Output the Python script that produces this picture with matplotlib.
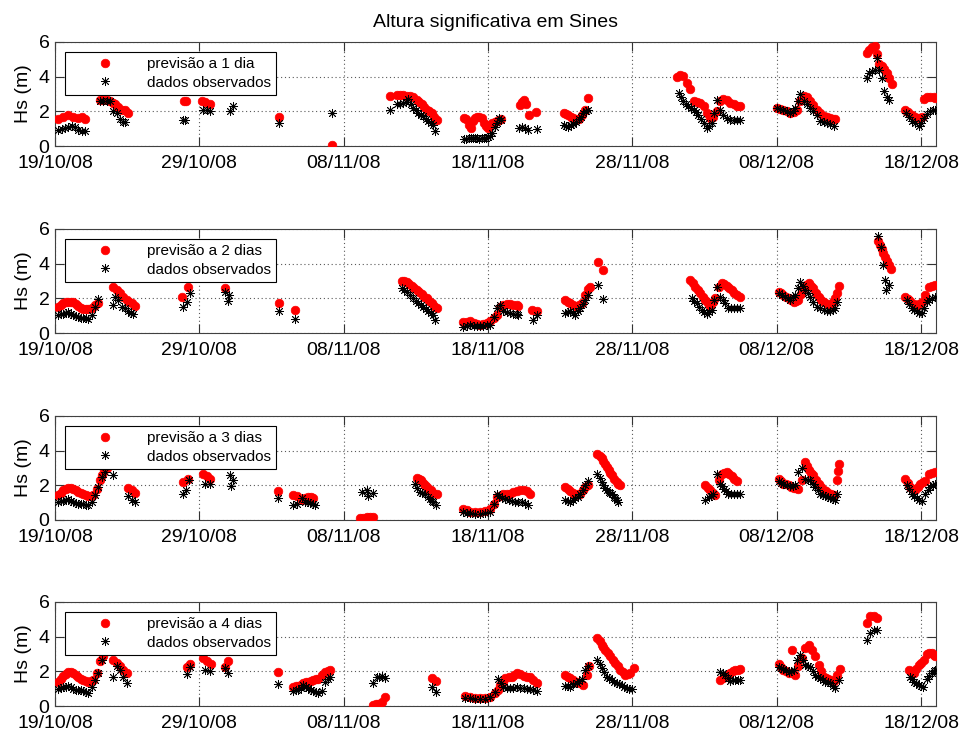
import matplotlib
matplotlib.use("Agg")
import matplotlib.pyplot as plt

plt.rcParams['font.family'] = ['Liberation Sans', 'DejaVu Sans']

# dias contados a partir de 19/10/08 00h
tick_dias = [0, 10, 20, 30, 40, 50, 60]
tick_nomes = ['19/10/08', '29/10/08', '08/11/08', '18/11/08', '28/11/08', '08/12/08', '18/12/08']

# ---- previsao a 1 dia ----
dia1_prev = [0.23, 0.58, 0.92, 1.27, 1.62, 1.85, 2.08,
             3.12, 3.35, 3.58, 3.81, 4.04, 4.16, 4.39, 4.62, 4.85, 5.08,
             8.95, 9.1, 10.16, 10.39, 10.74, 15.54, 19.17,
             23.21, 23.67, 23.9, 24.13, 24.37, 24.6, 24.83, 25.06, 25.23, 25.4, 25.58, 25.75, 25.92, 26.1, 26.27, 26.44,
             28.35, 28.5, 28.65, 28.8, 28.95, 29.1, 29.25, 29.4, 29.55, 29.7, 29.85, 30.0, 30.15, 30.3, 30.45, 30.6, 30.75, 30.9,
             32.2, 32.35, 32.5, 32.65, 32.85, 33.35,
             35.23, 35.4, 35.57, 35.75, 35.92, 36.1, 36.27, 36.5, 36.73, 36.96,
             43.08, 43.3, 43.54, 43.77, 44.0, 44.24, 44.47, 44.7, 44.93, 45.16, 45.39, 45.62, 45.85, 46.08, 46.3, 46.55,
             46.78, 47.01, 47.24, 47.47,
             50.01, 50.24, 50.47, 50.7, 50.94, 51.17, 51.4, 51.63, 51.86, 52.09, 52.32, 52.55, 52.78, 53.01, 53.25,
             53.48, 53.71, 53.88, 54.05,
             56.25, 56.42, 56.6, 56.78, 56.95, 57.12, 57.29, 57.46, 57.63, 57.8, 57.98,
             58.9, 59.13, 59.37, 59.6, 59.83, 60.06, 60.18, 60.41, 60.64, 60.87, 60.98]
hs1_prev = [1.56, 1.68, 1.81, 1.68, 1.60, 1.68, 1.56,
            2.68, 2.68, 2.65, 2.60, 2.50, 2.40, 2.26, 2.10, 2.05, 1.90,
            2.60, 2.60, 2.58, 2.55, 2.40, 1.68, 0.08,
            2.88, 2.93, 2.93, 2.93, 2.90, 2.88, 2.80, 2.68, 2.55, 2.40, 2.25, 2.10, 2.00, 1.90, 1.70, 1.52,
            1.62, 1.55, 1.20, 1.05, 1.45, 1.60, 1.65, 1.70, 1.60, 1.30, 1.15, 1.05, 1.20, 1.35, 1.40, 1.45, 1.50, 1.55,
            2.35, 2.55, 2.65, 2.45, 1.80, 1.95,
            1.91, 1.85, 1.76, 1.70, 1.62, 1.58, 1.56, 1.81, 2.10, 2.74,
            4.00, 4.10, 4.05, 3.65, 3.26, 2.60, 2.55, 2.50, 2.30, 1.90, 1.60, 1.65, 2.00, 2.60, 2.70, 2.68,
            2.50, 2.40, 2.30, 2.30,
            2.20, 2.15, 2.10, 2.00, 1.90, 1.95, 2.10, 2.60, 2.88, 2.80, 2.60, 2.35, 2.10, 1.90, 1.72,
            1.65, 1.60, 1.58, 1.56,
            5.35, 5.55, 5.72, 5.78, 5.30, 4.70, 4.60, 4.45, 4.20, 3.90, 3.60,
            2.10, 1.95, 1.80, 1.70, 1.60, 1.65, 2.70, 2.80, 2.80, 2.80, 2.78]
dia1_obs = [0.23, 0.46, 0.7, 0.92, 1.15, 1.38, 1.62, 1.85, 2.08,
            3.12, 3.35, 3.58, 3.81, 4.04, 4.27, 4.5, 4.73, 4.85,
            8.85, 9.0, 10.28, 10.5, 10.74, 12.12, 12.35, 15.54, 19.17,
            23.21, 23.67, 23.9, 24.13, 24.3, 24.48, 24.65, 24.83, 25.0, 25.17, 25.35, 25.52, 25.7, 25.87, 26.05, 26.22, 26.33,
            28.35, 28.5, 28.65, 28.8, 28.95, 29.1, 29.25, 29.4, 29.55, 29.7, 29.85, 30.0, 30.15, 30.3, 30.45, 30.6, 30.75, 30.9,
            32.15, 32.35, 32.55, 32.75, 33.4,
            35.23, 35.4, 35.57, 35.75, 35.92, 36.1, 36.27, 36.44, 36.61, 36.78, 36.96,
            43.2, 43.37, 43.54, 43.71, 43.89, 44.06, 44.24, 44.41, 44.58, 44.76, 44.93, 45.16, 45.33, 45.51, 45.68,
            45.85, 46.08, 46.3, 46.55, 46.78, 47.01, 47.24, 47.47,
            50.01, 50.24, 50.47, 50.7, 50.94, 51.1, 51.28, 51.45, 51.63, 51.86, 52.09, 52.32, 52.55, 52.78, 53.01,
            53.25, 53.48, 53.71, 53.94,
            56.25, 56.42, 56.6, 56.78, 56.95, 57.12, 57.29, 57.46, 57.63, 57.75,
            58.95, 59.15, 59.37, 59.6, 59.83, 60.0, 60.18, 60.41, 60.64, 60.81, 60.98]
hs1_obs = [0.95, 1.00, 1.04, 1.10, 1.18, 1.10, 0.95, 0.89, 0.89,
           2.60, 2.60, 2.62, 2.60, 2.00, 1.90, 1.56, 1.37, 1.40,
           1.49, 1.49, 2.10, 2.05, 2.00, 2.00, 2.30, 1.33, 1.90,
           2.07, 2.40, 2.42, 2.49, 2.55, 2.70, 2.45, 2.20, 2.05, 1.90, 1.80, 1.72, 1.55, 1.43, 1.33, 1.24, 0.85,
           0.38, 0.42, 0.45, 0.45, 0.45, 0.45, 0.45, 0.42, 0.45, 0.45, 0.45, 0.50, 0.55, 0.75, 1.10, 1.35, 1.60, 1.50,
           1.05, 1.10, 1.05, 0.95, 1.00,
           1.24, 1.15, 1.10, 1.20, 1.29, 1.40, 1.53, 1.70, 1.91, 2.00, 2.10,
           3.07, 2.85, 2.60, 2.45, 2.30, 2.20, 2.10, 1.95, 1.80, 1.55, 1.33, 1.04, 1.15, 1.30, 1.90,
           2.68, 2.10, 1.80, 1.60, 1.52, 1.49, 1.49, 1.49,
           2.20, 2.15, 2.10, 2.00, 1.90, 2.00, 2.20, 2.60, 2.97, 2.60, 2.40, 2.20, 2.00, 1.80, 1.43,
           1.40, 1.33, 1.25, 1.14,
           3.94, 4.20, 4.35, 4.40, 5.10, 4.40, 3.94, 3.17, 2.80, 2.68,
           1.90, 1.70, 1.43, 1.30, 1.14, 1.30, 1.60, 1.85, 2.00, 2.05, 2.10]

# ---- previsao a 2 dias ----
dia2_prev = [0.23, 0.41, 0.58, 0.75, 0.92, 1.1, 1.27, 1.45, 1.62, 1.79, 1.96, 2.13, 2.31, 2.54, 2.77, 3.0,
             4.04, 4.27, 4.5, 4.73, 4.97, 5.14, 5.31, 5.54,
             8.78, 9.24, 11.78, 15.54, 16.63,
             24.02, 24.2, 24.37, 24.54, 24.71, 24.89, 25.06, 25.23, 25.4, 25.58, 25.75, 25.92, 26.1, 26.27, 26.44,
             28.3, 28.53, 28.76, 29.0, 29.22, 29.45, 29.68, 29.92, 30.15, 30.38, 30.61, 30.84, 31.07, 31.3, 31.53,
             31.76, 32.0, 32.11,
             33.03, 33.38,
             35.34, 35.52, 35.69, 35.92, 36.15, 36.33, 36.5, 36.73, 36.96, 37.08,
             37.65, 38.0,
             44.0, 44.17, 44.35, 44.52, 44.7, 44.87, 45.05, 45.22, 45.39, 45.57, 45.74, 45.97, 46.2, 46.38, 46.55,
             46.72, 46.89, 47.06, 47.24, 47.47,
             50.13, 50.3, 50.47, 50.65, 50.82, 51.0, 51.17, 51.34, 51.51, 51.69, 51.86, 52.03, 52.21, 52.38, 52.55,
             52.73, 52.9, 53.07, 53.25, 53.48, 53.71, 53.88, 54.05, 54.17, 54.29,
             56.99, 57.14, 57.29, 57.4, 57.52, 57.64, 57.75, 57.91,
             58.9, 59.08, 59.25, 59.48, 59.71, 59.88, 60.06, 60.29, 60.52, 60.75, 60.98]
hs2_prev = [1.52, 1.62, 1.71, 1.76, 1.80, 1.79, 1.77, 1.68, 1.58, 1.47, 1.37, 1.36, 1.37, 1.43, 1.62, 1.75,
            2.67, 2.48, 2.29, 2.10, 1.90, 1.80, 1.71, 1.58,
            2.10, 2.67, 2.57, 1.71, 1.33,
            3.00, 2.98, 2.95, 2.85, 2.72, 2.60, 2.48, 2.35, 2.23, 2.10, 2.00, 1.85, 1.71, 1.57, 1.43,
            0.63, 0.65, 0.67, 0.55, 0.50, 0.48, 0.50, 0.55, 0.67, 0.85, 1.05, 1.52, 1.60, 1.66, 1.65,
            1.62, 1.60, 1.58,
            1.33, 1.24,
            1.90, 1.80, 1.71, 1.62, 1.52, 1.60, 1.71, 2.19, 2.53, 2.67,
            4.10, 3.62,
            3.05, 2.86, 2.67, 2.48, 2.29, 2.10, 1.90, 1.74, 1.58, 1.78, 2.00, 2.67, 2.86, 2.80, 2.72,
            2.60, 2.48, 2.33, 2.19, 2.10,
            2.38, 2.28, 2.19, 2.10, 2.04, 1.92, 1.80, 1.85, 1.90, 2.25, 2.57, 2.75, 2.86, 2.72, 2.57,
            2.32, 2.10, 1.92, 1.77, 1.70, 1.62, 1.80, 2.00, 2.29, 2.72,
            5.33, 5.10, 4.86, 4.62, 4.38, 4.14, 3.90, 3.71,
            2.10, 1.97, 1.85, 1.70, 1.58, 1.68, 1.80, 2.19, 2.67, 2.72, 2.76]
dia2_obs = [0.23, 0.41, 0.58, 0.75, 0.92, 1.1, 1.27, 1.45, 1.62, 1.79, 1.96, 2.13, 2.31, 2.54, 2.77, 3.0,
            4.04, 4.16, 4.39, 4.62, 4.85, 5.08, 5.25, 5.43,
            8.85, 9.12, 9.35, 11.78, 12.0, 12.05, 15.54, 16.63,
            24.02, 24.2, 24.37, 24.6, 24.83, 25.0, 25.17, 25.35, 25.52, 25.7, 25.87, 26.05, 26.22, 26.33,
            28.3, 28.53, 28.76, 29.0, 29.22, 29.45, 29.68, 29.92, 30.15, 30.38, 30.61, 30.84, 31.07, 31.3, 31.53,
            31.76, 32.0, 32.11,
            33.15, 33.38,
            35.34, 35.52, 35.69, 35.86, 36.03, 36.2, 36.38, 36.55, 36.73, 36.96,
            37.65, 38.0,
            44.12, 44.3, 44.47, 44.64, 44.81, 44.98, 45.16, 45.33, 45.51, 45.68, 45.85, 46.08, 46.26, 46.43, 46.66,
            46.84, 47.01, 47.24, 47.47,
            50.13, 50.36, 50.59, 50.76, 50.94, 51.11, 51.28, 51.45, 51.63, 51.8, 51.98, 52.15, 52.32, 52.55, 52.78,
            53.01, 53.25, 53.48, 53.71, 53.88, 54.05, 54.17,
            56.99, 57.22, 57.36, 57.52, 57.59, 57.75,
            59.02, 59.2, 59.37, 59.54, 59.71, 59.88, 60.06, 60.24, 60.41, 60.58, 60.75, 60.98]
hs2_obs = [1.05, 1.07, 1.09, 1.15, 1.20, 1.12, 1.05, 0.98, 0.91, 0.88, 0.86, 0.84, 0.82, 1.05, 1.52, 1.96,
           1.62, 2.10, 1.90, 1.52, 1.43, 1.24, 1.15, 1.09,
           1.52, 1.80, 2.29, 2.38, 1.85, 2.20, 1.24, 0.82,
           2.57, 2.48, 2.38, 2.20, 2.00, 1.85, 1.71, 1.60, 1.52, 1.38, 1.24, 1.14, 1.05, 0.76,
           0.34, 0.40, 0.48, 0.42, 0.40, 0.38, 0.40, 0.45, 0.48, 0.90, 1.43, 1.62, 1.24, 1.20, 1.14,
           1.10, 1.08, 1.05,
           0.76, 1.05,
           1.14, 1.20, 1.24, 1.15, 1.05, 1.25, 1.43, 1.65, 1.90, 2.19,
           2.76, 1.96,
           2.00, 1.85, 1.71, 1.52, 1.33, 1.20, 1.09, 1.20, 1.33, 1.90, 2.67, 2.10, 1.90, 1.71, 1.47,
           1.45, 1.43, 1.43, 1.43,
           2.29, 2.20, 2.10, 2.00, 1.90, 2.05, 2.19, 2.60, 2.95, 2.70, 2.48, 2.30, 2.10, 1.80, 1.52,
           1.42, 1.33, 1.28, 1.24, 1.30, 1.43, 1.80,
           5.62, 4.95, 3.90, 3.05, 2.48, 2.76,
           1.90, 1.65, 1.43, 1.33, 1.24, 1.18, 1.14, 1.45, 1.77, 1.90, 2.00, 2.10]

# ---- previsao a 3 dias ----
dia3_prev = [0.23, 0.41, 0.58, 0.75, 0.92, 1.1, 1.27, 1.45, 1.62, 1.79, 1.96, 2.13, 2.31, 2.49, 2.66, 2.89, 3.12,
             3.23, 3.4, 3.6,
             5.08, 5.31, 5.54,
             8.89, 9.24, 10.28, 10.51, 10.74, 15.47,
             16.51, 16.74, 17.09, 17.32, 17.55, 17.72, 17.9,
             21.13, 21.36, 21.59, 21.82, 22.05,
             25.06, 25.2, 25.33, 25.48, 25.64, 25.75, 25.87, 26.05, 26.22, 26.44,
             28.3, 28.53, 28.76, 29.1, 29.45, 29.8, 30.15, 30.4, 30.61, 30.84, 31.07, 31.3, 31.53, 31.76, 31.99,
             32.22, 32.46, 32.69, 32.92,
             35.34, 35.52, 35.69, 35.86, 36.04, 36.21, 36.38, 36.55, 36.73, 36.96,
             37.58, 37.73, 37.88, 38.0, 38.12, 38.23, 38.35, 38.46, 38.58, 38.75, 38.92, 39.04, 39.15,
             45.05, 45.22, 45.39, 45.57, 45.74, 45.97, 46.2, 46.38, 46.55, 46.72, 46.89, 47.06, 47.24,
             50.13, 50.3, 50.47, 50.65, 50.82, 51.0, 51.17, 51.34, 51.51, 51.74, 51.98, 52.1, 52.21, 52.38, 52.55,
             52.73, 52.9, 53.07, 53.25, 53.42, 53.59, 53.77, 53.94, 54.17, 54.24, 54.29,
             58.9, 59.08, 59.25, 59.43, 59.6, 59.77, 59.94, 60.11, 60.29, 60.52, 60.75, 60.98]
hs3_prev = [1.43, 1.58, 1.71, 1.80, 1.87, 1.85, 1.81, 1.72, 1.62, 1.55, 1.47, 1.43, 1.39, 1.40, 1.43, 1.81, 2.29,
            2.57, 2.90, 3.00,
            1.85, 1.71, 1.58,
            2.19, 2.38, 2.67, 2.53, 2.38, 1.66,
            1.43, 1.39, 1.14, 1.24, 1.33, 1.30, 1.28,
            0.10, 0.12, 0.19, 0.17, 0.15,
            2.42, 2.36, 2.29, 2.15, 2.00, 1.90, 1.81, 1.70, 1.58, 1.47,
            0.63, 0.55, 0.48, 0.45, 0.44, 0.50, 0.63, 0.90, 1.33, 1.40, 1.47, 1.50, 1.52, 1.60, 1.66,
            1.70, 1.71, 1.65, 1.52,
            1.90, 1.78, 1.66, 1.55, 1.43, 1.47, 1.52, 1.70, 1.90, 2.04,
            3.81, 3.68, 3.56, 3.40, 3.24, 3.05, 2.86, 2.72, 2.57, 2.38, 2.19, 2.10, 2.00,
            2.00, 1.85, 1.71, 1.57, 1.43, 2.29, 2.67, 2.72, 2.76, 2.65, 2.53, 2.38, 2.23,
            2.34, 2.22, 2.10, 2.05, 2.00, 1.92, 1.85, 1.83, 1.81, 2.29, 3.33, 3.10, 2.86, 2.72, 2.57,
            2.33, 2.10, 1.90, 1.71, 1.65, 1.58, 1.50, 1.43, 2.29, 2.80, 3.24,
            2.38, 2.14, 1.90, 1.80, 1.71, 1.90, 2.10, 2.17, 2.23, 2.67, 2.72, 2.76]
dia3_obs = [0.23, 0.41, 0.58, 0.75, 0.92, 1.1, 1.27, 1.45, 1.62, 1.79, 1.96, 2.13, 2.31, 2.54, 2.77, 3.0, 3.23,
            3.45, 4.04,
            5.08, 5.31, 5.54,
            8.89, 9.05, 9.28, 10.39, 10.74, 12.12, 12.17, 12.36, 15.47,
            16.51, 16.74, 17.09, 17.32, 17.5, 17.67, 17.84, 18.01,
            21.25, 21.59, 21.7, 22.05,
            24.94, 25.11, 25.29, 25.46, 25.64, 25.81, 25.98, 26.1, 26.22, 26.4,
            28.3, 28.53, 28.76, 29.1, 29.45, 29.8, 30.15, 30.4, 30.61, 30.78, 30.95, 31.2, 31.42, 31.65, 31.88,
            32.1, 32.34, 32.57, 32.8,
            35.34, 35.52, 35.69, 35.86, 36.04, 36.21, 36.38, 36.55, 36.73, 36.96,
            37.58, 37.73, 37.88, 38.0, 38.12, 38.23, 38.35, 38.46, 38.58, 38.7, 38.81, 38.92, 39.04,
            45.05, 45.28, 45.45, 45.62, 45.85, 46.04, 46.18, 46.32, 46.49, 46.66, 46.84, 47.01, 47.24, 47.47,
            50.13, 50.3, 50.47, 50.7, 50.94, 51.11, 51.28, 51.51, 51.74, 51.98, 52.15, 52.32, 52.5, 52.67, 52.84,
            53.01, 53.18, 53.36, 53.54, 53.71, 53.88, 54.05, 54.17,
            59.02, 59.2, 59.37, 59.54, 59.71, 59.88, 60.06, 60.29, 60.46, 60.64, 60.81, 60.98]
hs3_obs = [1.05, 1.07, 1.09, 1.15, 1.20, 1.12, 1.05, 1.00, 0.95, 0.92, 0.90, 0.88, 0.86, 1.05, 1.43, 1.90, 2.48,
           2.75, 2.57,
           1.39, 1.14, 1.05,
           1.47, 1.71, 2.29, 2.10, 2.10, 2.57, 1.96, 2.29, 1.28,
           0.86, 0.90, 1.24, 1.05, 1.05, 1.00, 0.93, 0.86,
           1.62, 1.71, 1.39, 1.58,
           2.10, 1.85, 1.62, 1.55, 1.47, 1.32, 1.20, 1.12, 1.05, 0.86,
           0.44, 0.40, 0.38, 0.34, 0.32, 0.38, 0.48, 0.90, 1.52, 1.38, 1.24, 1.20, 1.14, 1.10, 1.05,
           1.05, 1.05, 1.00, 0.86,
           1.14, 1.10, 1.05, 1.15, 1.24, 1.35, 1.47, 1.70, 2.00, 2.23,
           2.67, 2.42, 2.19, 2.00, 1.85, 1.72, 1.62, 1.55, 1.47, 1.35, 1.24, 1.14, 1.05,
           1.14, 1.33, 1.40, 1.47, 2.67, 2.10, 1.95, 1.81, 1.65, 1.52, 1.50, 1.47, 1.47, 1.47,
           2.23, 2.16, 2.10, 2.03, 1.96, 1.98, 2.00, 2.76, 2.99, 2.38, 2.33, 2.29, 2.10, 1.90, 1.70,
           1.47, 1.43, 1.39, 1.33, 1.28, 1.20, 1.14, 1.52,
           2.00, 1.76, 1.52, 1.38, 1.24, 1.16, 1.09, 1.47, 1.70, 1.90, 2.00, 2.10]

# ---- previsao a 4 dias ----
dia4_prev = [0.23, 0.41, 0.58, 0.75, 0.92, 1.1, 1.27, 1.45, 1.62, 1.79, 1.96, 2.13, 2.31, 2.49, 2.66, 2.89, 3.12,
             3.3,
             4.04, 4.27, 4.5, 4.73, 4.97,
             9.12, 9.35, 10.28, 10.55, 10.79, 11.78, 12.01, 15.47,
             16.51, 16.69, 16.86, 17.04, 17.21, 17.38, 17.55, 17.72, 17.9, 18.07, 18.25, 18.48, 18.71, 18.88, 19.05,
             22.06, 22.23, 22.4, 22.63, 22.86,
             26.1, 26.4,
             28.4, 28.76, 29.1, 29.45, 29.8, 30.15, 30.49, 30.67, 30.84, 31.01, 31.19, 31.42, 31.65, 31.82, 31.99,
             32.22, 32.46, 32.69, 32.92, 33.15, 33.38,
             35.34, 35.52, 35.69, 35.92, 36.15, 36.38, 36.61, 36.85, 37.03,
             37.58, 37.73, 37.88, 38.0, 38.12, 38.29, 38.46, 38.64, 38.81, 38.98, 39.15, 39.33, 39.5, 39.68, 39.85,
             40.08,
             46.08, 46.26, 46.43, 46.61, 46.78, 46.95, 47.12, 47.3, 47.47,
             50.13, 50.3, 50.47, 50.65, 50.82, 51.05, 51.28, 51.51, 51.74, 51.98, 52.21, 52.44, 52.67, 52.9, 53.07,
             53.25, 53.42, 53.59, 53.77, 53.94, 54.17, 54.36,
             56.25, 56.48, 56.71, 56.94,
             59.14, 59.31, 59.48, 59.66, 59.83, 60.0, 60.18, 60.41, 60.58, 60.75, 60.92, 61.0]
hs4_prev = [1.41, 1.58, 1.74, 1.87, 1.99, 1.94, 1.89, 1.78, 1.66, 1.58, 1.51, 1.46, 1.41, 1.45, 1.51, 1.89, 2.57,
            2.90,
            2.66, 2.47, 2.28, 2.08, 1.89,
            2.24, 2.43, 2.76, 2.57, 2.43, 2.24, 2.57, 1.99,
            1.12, 1.14, 1.16, 1.24, 1.31, 1.36, 1.41, 1.46, 1.51, 1.53, 1.54, 1.80, 1.99, 2.04, 2.08,
            0.06, 0.09, 0.12, 0.25, 0.50,
            1.60, 1.47,
            0.58, 0.54, 0.48, 0.44, 0.47, 0.50, 0.73, 0.95, 1.22, 1.40, 1.60, 1.65, 1.70, 1.80, 1.89,
            1.82, 1.74, 1.70, 1.66, 1.50, 1.31,
            1.80, 1.70, 1.60, 1.50, 1.41, 1.32, 1.22, 1.80, 2.28,
            3.92, 3.72, 3.53, 3.38, 3.24, 3.05, 2.86, 2.66, 2.47, 2.28, 2.08, 1.94, 1.80, 1.86, 1.93,
            2.18,
            1.51, 1.62, 1.74, 1.84, 1.93, 2.00, 2.08, 2.10, 2.12,
            2.43, 2.25, 2.08, 2.00, 1.93, 3.24, 1.80, 2.28, 2.76, 3.34, 3.53, 3.24, 2.86, 2.37, 2.00,
            1.66, 1.60, 1.54, 1.50, 1.47, 1.80, 2.12,
            4.79, 5.17, 5.21, 5.08,
            2.08, 2.00, 1.93, 2.15, 2.37, 2.50, 2.66, 3.01, 3.03, 3.05, 2.95, 2.86]
dia4_obs = [0.23, 0.41, 0.58, 0.75, 0.92, 1.1, 1.27, 1.45, 1.62, 1.79, 1.96, 2.13, 2.31, 2.54, 2.77, 3.0, 3.23,
            4.04, 4.27, 4.5, 4.73, 4.97,
            9.12, 9.35, 10.39, 10.74, 11.78, 12.01, 15.47,
            16.51, 16.69, 16.86, 17.04, 17.21, 17.38, 17.55, 17.72, 17.9, 18.07, 18.25, 18.48, 18.71, 18.88, 19.05,
            22.06, 22.29, 22.46, 22.63, 22.86,
            26.1, 26.4,
            28.4, 28.76, 29.1, 29.45, 29.8, 30.15, 30.49, 30.72, 30.9, 31.07, 31.3, 31.53, 31.76, 31.99, 32.2,
            32.46, 32.7, 32.92, 33.15, 33.38,
            35.34, 35.52, 35.69, 35.92, 36.15, 36.33, 36.5, 36.73, 36.96,
            37.58, 37.73, 37.88, 38.05, 38.23, 38.4, 38.58, 38.75, 38.92, 39.1, 39.27, 39.45, 39.62, 39.79, 39.96,
            46.08, 46.26, 46.43, 46.61, 46.78, 46.95, 47.12, 47.3, 47.47,
            50.13, 50.3, 50.47, 50.65, 50.82, 51.0, 51.17, 51.4, 51.63, 51.8, 51.98, 52.15, 52.32, 52.5, 52.67,
            52.84, 53.01, 53.18, 53.36, 53.54, 53.71, 53.88, 54.05, 54.29,
            56.25, 56.48, 56.71, 56.94,
            59.21, 59.35, 59.48, 59.66, 59.83, 59.98, 60.13, 60.41, 60.58, 60.75, 60.88, 61.0]
hs4_obs = [0.97, 1.02, 1.08, 1.12, 1.16, 1.07, 0.97, 0.95, 0.93, 0.90, 0.87, 0.82, 0.77, 1.12, 1.51, 1.93, 2.66,
           1.66, 2.28, 2.08, 1.70, 1.35,
           1.85, 2.24, 2.08, 2.04, 2.18, 1.89, 1.27,
           0.89, 0.91, 0.93, 1.05, 1.22, 1.12, 1.02, 0.95, 0.89, 0.83, 0.77, 0.89, 1.41, 1.55, 1.66,
           1.35, 1.66, 1.70, 1.74, 1.60,
           1.12, 0.83,
           0.44, 0.44, 0.39, 0.39, 0.42, 0.50, 0.83, 1.54, 1.30, 1.12, 1.05, 1.02, 1.05, 1.08, 1.05,
           1.02, 1.00, 0.97, 0.92, 0.89,
           1.16, 1.14, 1.12, 1.25, 1.35, 1.45, 1.54, 2.08, 2.28,
           2.66, 2.42, 2.18, 1.95, 1.70, 1.60, 1.51, 1.41, 1.31, 1.26, 1.22, 1.12, 1.02, 1.00, 0.97,
           1.99, 1.90, 1.80, 1.62, 1.47, 1.49, 1.51, 1.51, 1.51,
           2.24, 2.18, 2.12, 2.05, 1.99, 2.04, 2.08, 2.63, 2.95, 2.65, 2.37, 2.30, 2.24, 2.00, 1.80,
           1.70, 1.60, 1.50, 1.41, 1.36, 1.31, 1.15, 1.02, 1.51,
           3.82, 4.21, 4.36, 4.40,
           1.70, 1.55, 1.41, 1.32, 1.22, 1.15, 1.08, 1.54, 1.75, 1.93, 2.00, 2.08]

paineis = [
    (dia1_prev, hs1_prev, dia1_obs, hs1_obs, 'previsão a 1 dia'),
    (dia2_prev, hs2_prev, dia2_obs, hs2_obs, 'previsão a 2 dias'),
    (dia3_prev, hs3_prev, dia3_obs, hs3_obs, 'previsão a 3 dias'),
    (dia4_prev, hs4_prev, dia4_obs, hs4_obs, 'previsão a 4 dias'),
]

fig = plt.figure(figsize=(9.62, 7.33), dpi=100)
fundos = [0.8008, 0.5457, 0.2906, 0.0368]

for k, (dp, hp, do, ho, nome) in enumerate(paineis):
    ax = fig.add_axes([0.0572, fundos[k], 0.9158, 0.142])
    ax.plot(dp, hp, 'o', color='red', ms=6.2, mec='red', mew=0.5, label=nome, zorder=3)
    ax.plot(do, ho, ls='none', marker=(8, 2, 0), color='black', ms=6.5, mew=0.6,
            label='dados observados', zorder=4)
    ax.set_xlim(0, 61.04)
    ax.set_ylim(0, 6)
    ax.set_yticks([0, 2, 4, 6])
    ax.set_xticks(tick_dias)
    ax.set_xticklabels(tick_nomes)
    ax.grid(True, ls=(0, (1, 2.5)), lw=0.8, color='0.35')
    ax.tick_params(direction='in', length=6.3, width=0.8, labelsize=14, top=True, right=True,
                   pad=4, colors='0.2', labelcolor='black')
    ax.tick_params(axis='x', pad=6.5)
    for s in ax.spines.values():
        s.set_color('0.25')
        s.set_linewidth(0.8)
    ax.set_ylabel('Hs (m)', fontsize=14, labelpad=5)
    leg = ax.legend(loc='upper left', bbox_to_anchor=(0.0114, 0.905), borderaxespad=0,
                    fontsize=11, fancybox=False, framealpha=1, edgecolor='black',
                    handlelength=4.5, handletextpad=0.5, borderpad=0.35, labelspacing=0.3,
                    markerscale=1.0)
    leg.get_frame().set_linewidth(0.8)
    leg.set_zorder(10)
    if k == 0:
        ax.set_title('Altura significativa em Sines', fontsize=14, pad=11)

fig.savefig('out.png', dpi=100)
